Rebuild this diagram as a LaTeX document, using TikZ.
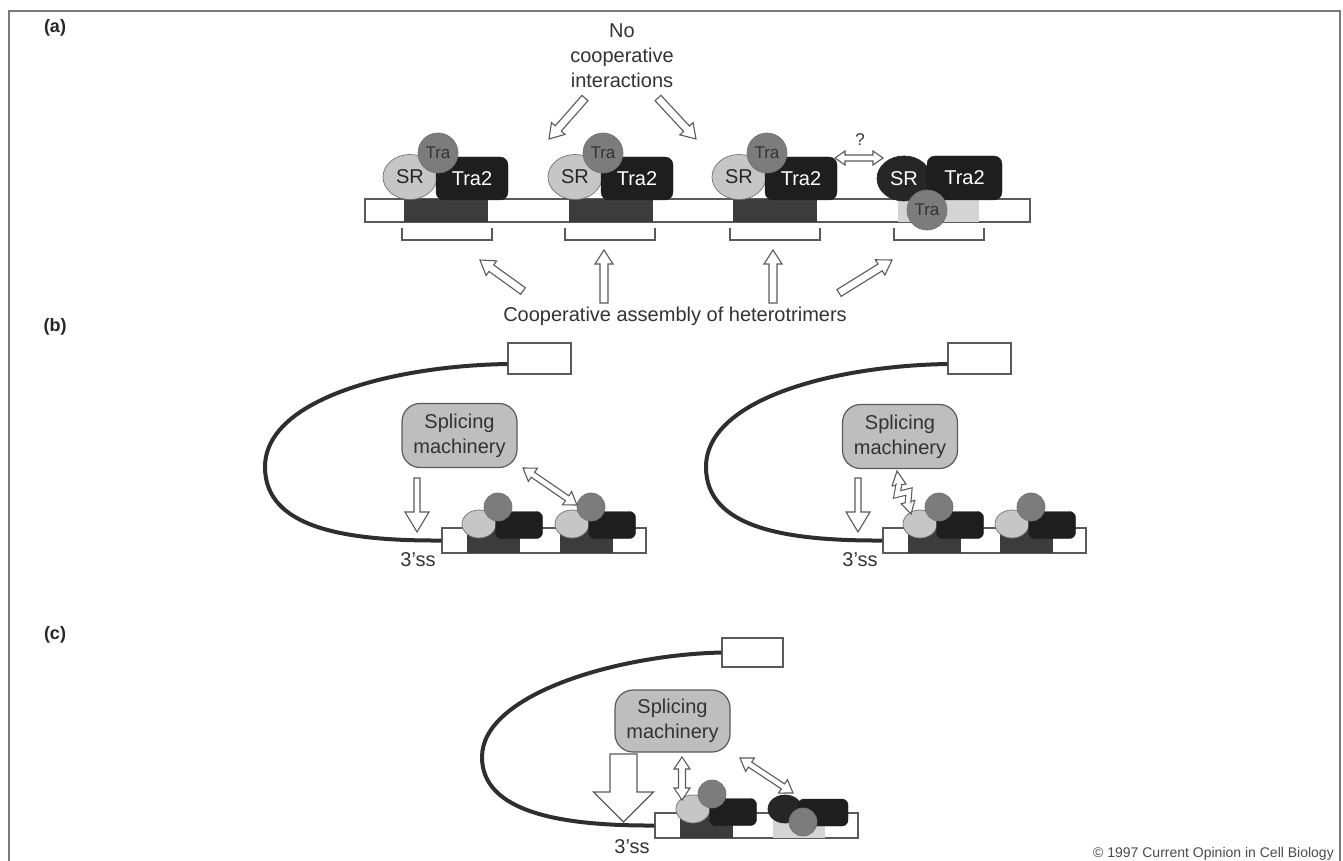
\documentclass[tikz,border=0pt]{standalone}
\usepackage{fontspec}
\setmainfont{Liberation Sans}
\usetikzlibrary{shapes.geometric,calc}
\definecolor{srlight}{HTML}{C6C6C6}
\definecolor{tragray}{HTML}{7C7C7C}
\definecolor{tratwo}{HTML}{1E1E1E}
\definecolor{srdark}{HTML}{262626}
\definecolor{blockdark}{HTML}{3C3C3C}
\definecolor{blocklight}{HTML}{D4D4D4}
\definecolor{linegray}{HTML}{5A5A5A}
\definecolor{boxgray}{HTML}{BEBEBE}
\definecolor{textgray}{HTML}{333333}
\definecolor{framegray}{HTML}{7A7A7A}
\definecolor{introncol}{HTML}{2E2E2E}
\newcommand\hollowarrow[5]{%
  \coordinate (hab) at ($(#2)!#5pt!(#1)$);
  \draw[arrowline] ($(#1)!#3pt!90:(#2)$) -- ($(hab)!#3pt!90:(#2)$) -- ($(hab)!#4pt!90:(#2)$) -- (#2) -- ($(hab)!#4pt!-90:(#2)$) -- ($(hab)!#3pt!-90:(#2)$) -- ($(#1)!#3pt!-90:(#2)$) -- cycle;}
\newcommand\doublearrow[5]{%
  \coordinate (dah) at ($(#1)!#5pt!(#2)$);
  \coordinate (dbh) at ($(#2)!#5pt!(#1)$);
  \draw[arrowline] (#1) -- ($(dah)!#4pt!90:(#2)$) -- ($(dah)!#3pt!90:(#2)$) -- ($(dbh)!#3pt!-90:(#1)$) -- ($(dbh)!#4pt!-90:(#1)$) -- (#2) -- ($(dbh)!#4pt!90:(#1)$) -- ($(dbh)!#3pt!90:(#1)$) -- ($(dah)!#3pt!-90:(#2)$) -- ($(dah)!#4pt!-90:(#2)$) -- cycle;}
\newcommand\arrowheadtri[3]{%
  \draw[arrowline] ($(#1)!#3pt!90:(#2)$) -- (#2) -- ($(#1)!#3pt!-90:(#2)$) -- cycle;}
\tikzset{
  arrowline/.style={draw=linegray, fill=white, line width=1.1pt, line join=miter},
  strandbox/.style={rectangle, draw=linegray, fill=white, line width=1.1pt, inner sep=0pt},
  blockd/.style={rectangle, fill=blockdark, inner sep=0pt},
  blockl/.style={rectangle, fill=blocklight, inner sep=0pt},
  bracket/.style={draw=linegray, line width=1.1pt},
  srA/.style={ellipse, draw=black!55, line width=0.7pt, fill=srlight, minimum width=54pt, minimum height=45pt, inner sep=0pt, font=\fontsize{20}{20}\selectfont, text=black!85},
  srAd/.style={srA, fill=srdark, draw=srdark, text=white},
  traA/.style={circle, fill=tragray, draw=black!55, line width=0.7pt, minimum size=40pt, inner sep=0pt, font=\fontsize{17}{17}\selectfont, text=black!80},
  tra2A/.style={rectangle, rounded corners=8pt, fill=tratwo, draw=tratwo, minimum width=72pt, minimum height=43pt, inner sep=0pt, font=\fontsize{20}{20}\selectfont, text=white},
  srB/.style={ellipse, draw=black!55, line width=0.7pt, fill=srlight, minimum width=34pt, minimum height=28pt, inner sep=0pt},
  srBd/.style={srB, fill=srdark, draw=srdark},
  traB/.style={circle, fill=tragray, draw=black!55, line width=0.7pt, minimum size=28pt, inner sep=0pt},
  tra2B/.style={rectangle, rounded corners=6pt, fill=tratwo, draw=tratwo, minimum width=47pt, minimum height=27pt, inner sep=0pt},
  splice/.style={rectangle, rounded corners=18pt, fill=boxgray, draw=linegray, line width=1.2pt, minimum width=115pt, minimum height=64pt, align=center, inner sep=0pt, font=\fontsize{20}{25}\selectfont, text=textgray},
  lbl/.style={font=\fontsize{20}{25}\selectfont, text=textgray, inner sep=0pt},
  panel/.style={font=\bfseries\fontsize{18}{18}\selectfont, text=black!85, inner sep=0pt},
  intron/.style={draw=introncol, line width=4pt},
  exon/.style={rectangle, draw=linegray, fill=white, line width=1.1pt, inner sep=0pt}
}
\begin{document}
\begin{tikzpicture}[x=1pt,y=-1pt]
\useasboundingbox (0,0) rectangle (1343,861);
\fill[white] (0,0) rectangle (1343,861);
% frame
\draw[framegray, line width=1.5pt] (9,861) -- (9,11) -- (1340,11) -- (1340,861);
% panel labels
\node[panel] (la) at (55,28) {(a)};
\node[panel] (lb) at (55,327) {(b)};
\node[panel] (lc) at (55,635) {(c)};
% ================= (a)
\node[lbl, align=center] (nocoop) at (622,56) {No\\cooperative\\interactions};
\node[strandbox, minimum width=665pt, minimum height=23pt] (strandA) at (697.5,210.5) {};
\foreach \L/\i in {404/1,569/2,733/3}{
  \node[blockd, minimum width=84pt, minimum height=23pt] (blkA\i) at (\L+42,210.5) {};
  \node[srA] (srA\i) at (\L+6,177) {SR};
  \node[tra2A] (ttA\i) at (\L+68,178.5) {Tra2};
  \node[traA] (traA\i) at (\L+34,153) {Tra};
}
\node[blockl, minimum width=81pt, minimum height=23pt] (blkA4) at (938.5,210.5) {};
\draw[linegray, line width=1.1pt] (blkA4.north west) -- (blkA4.north east) (blkA4.south west) -- (blkA4.south east);
\node[srAd] (srA4) at (904,178.5) {SR};
\node[tra2A, minimum width=75pt, minimum height=44pt] (ttA4) at (964.5,178) {Tra2};
\node[traA] (traA4) at (927,210) {Tra};
\foreach \a in {402,565,730,894}{
  \draw[bracket] (\a,228) |- (\a+90,240) -- (\a+90,228);
}
% top arrows
\coordinate (tl1) at (585,98); \coordinate (tl2) at (549,139);
\coordinate (tr1) at (658,98); \coordinate (tr2) at (696,139);
\hollowarrow{tl1}{tl2}{4}{9}{14}
\hollowarrow{tr1}{tr2}{4}{9}{14}
% question double arrow
\node[lbl, font=\fontsize{17}{17}\selectfont] (qm) at (860,140) {?};
\coordinate (q1) at (835,158); \coordinate (q2) at (883,158);
\doublearrow{q1}{q2}{3}{7}{10}
% bottom arrows
\node[lbl, anchor=base] (coop) at (675,321) {Cooperative assembly of heterotrimers};
\coordinate (b1t) at (523,291); \coordinate (b1h) at (480,260);
\coordinate (b2t) at (604,303); \coordinate (b2h) at (604,250);
\coordinate (b3t) at (773,303); \coordinate (b3h) at (773,250);
\coordinate (b4t) at (839,293); \coordinate (b4h) at (892,260);
\hollowarrow{b1t}{b1h}{4}{9}{14}
\hollowarrow{b2t}{b2h}{4}{9}{14}
\hollowarrow{b3t}{b3h}{4}{9}{14}
\hollowarrow{b4t}{b4h}{4}{9}{14}
% ================= (b)
\node[exon, minimum width=63pt, minimum height=31pt] (exB1) at (539.5,358.5) {};
\node[exon, minimum width=63pt, minimum height=31pt] (exB2) at (979.5,358.5) {};
\node[strandbox, minimum width=204pt, minimum height=25pt] (strB1) at (544,540.5) {};
\node[strandbox, minimum width=203pt, minimum height=25pt] (strB2) at (984.5,540.5) {};
\coordinate (loopB1) at (265,467);
\coordinate (loopB2) at (706,467);
\draw[intron] ([yshift=-5.5pt]exB1.west) .. controls (390,366) and (265,400) .. (loopB1) .. controls (265,528) and (345,541) .. (strB1.west);
\draw[intron] ([yshift=-5.5pt]exB2.west) .. controls (831,366) and (706,400) .. (loopB2) .. controls (706,528) and (786,541) .. (strB2.west);
\foreach \L/\i in {467/1,560/2,908/3,1000/4}{
  \node[blockd, minimum width=53pt, minimum height=25pt] (blkB\i) at (\L+26.5,540.5) {};
  \node[srB] (srB\i) at (\L+12,524) {};
  \node[tra2B] (ttB\i) at (\L+52,525) {};
  \node[traB] (traB\i) at (\L+31,507) {};
}
\node[splice] (spB1) at (459.5,435.5) {Splicing\\machinery};
\node[splice] (spB2) at (900,436.5) {Splicing\\machinery};
\node[lbl] (ssB1) at (418,560) {3'ss};
\node[lbl] (ssB2) at (860,560) {3'ss};
\coordinate (dB1t) at (417,478); \coordinate (dB1h) at (417,532);
\hollowarrow{dB1t}{dB1h}{3}{12}{20}
\coordinate (dB2t) at (858,478); \coordinate (dB2h) at (858,532);
\hollowarrow{dB2t}{dB2h}{3}{12}{20}
\coordinate (xB1) at (523,468); \coordinate (xB2) at (577,505);
\doublearrow{xB1}{xB2}{3}{8}{12}
% zigzag double arrow
\coordinate (zt) at (897,471); \coordinate (zb1) at (899,485);
\coordinate (zbt) at (911,514); \coordinate (zb2) at (908,502);
\arrowheadtri{zb1}{zt}{7}
\arrowheadtri{zb2}{zbt}{7}
\draw[linegray, line width=1.1pt, double=white, double distance=4.5pt, line join=miter] (899,484) -- (897,494.5) -- (909,491.5) -- (908,503);
% ================= (c)
\node[exon, minimum width=61pt, minimum height=29pt] (exC) at (752.5,652.5) {};
\node[strandbox, minimum width=203pt, minimum height=25pt] (strC) at (756.5,825.5) {};
\coordinate (loopC) at (482,757);
\draw[intron] (exC.west) .. controls (615,655) and (482,695) .. (loopC) .. controls (482,812) and (560,826) .. (strC.west);
\node[blockd, minimum width=53pt, minimum height=25pt] (blkC1) at (706.5,825.5) {};
\node[blockl, minimum width=52pt, minimum height=25pt] (blkC2) at (799,825.5) {};
\draw[linegray, line width=1.1pt] (blkC2.south west) -- (blkC2.south east);
\node[srB] (srC1) at (693,809) {};
\node[tra2B] (ttC1) at (733,812) {};
\node[traB] (traC1) at (712,794) {};
\node[srBd] (srC2) at (785,809) {};
\node[tra2B, minimum width=50pt] (ttC2) at (823,812.5) {};
\node[traB] (traC2) at (803,822) {};
\node[splice, minimum height=62pt] (spC) at (672.5,721) {Splicing\\machinery};
\node[lbl] (ssC) at (632,847) {3'ss};
\coordinate (bigt) at (623.5,754); \coordinate (bigh) at (623.5,822);
\hollowarrow{bigt}{bigh}{13.5}{30}{30}
\coordinate (vC1) at (682,757); \coordinate (vC2) at (682,800);
\doublearrow{vC1}{vC2}{3.5}{8}{12}
\coordinate (xC1) at (740,758); \coordinate (xC2) at (793,793);
\doublearrow{xC1}{xC2}{3}{8}{12}
% copyright
\node[lbl, anchor=base east, font=\fontsize{14}{14}\selectfont, text=black!70] (copy) at (1334,857) {© 1997 Current Opinion in Cell Biology};
\end{tikzpicture}
\end{document}
